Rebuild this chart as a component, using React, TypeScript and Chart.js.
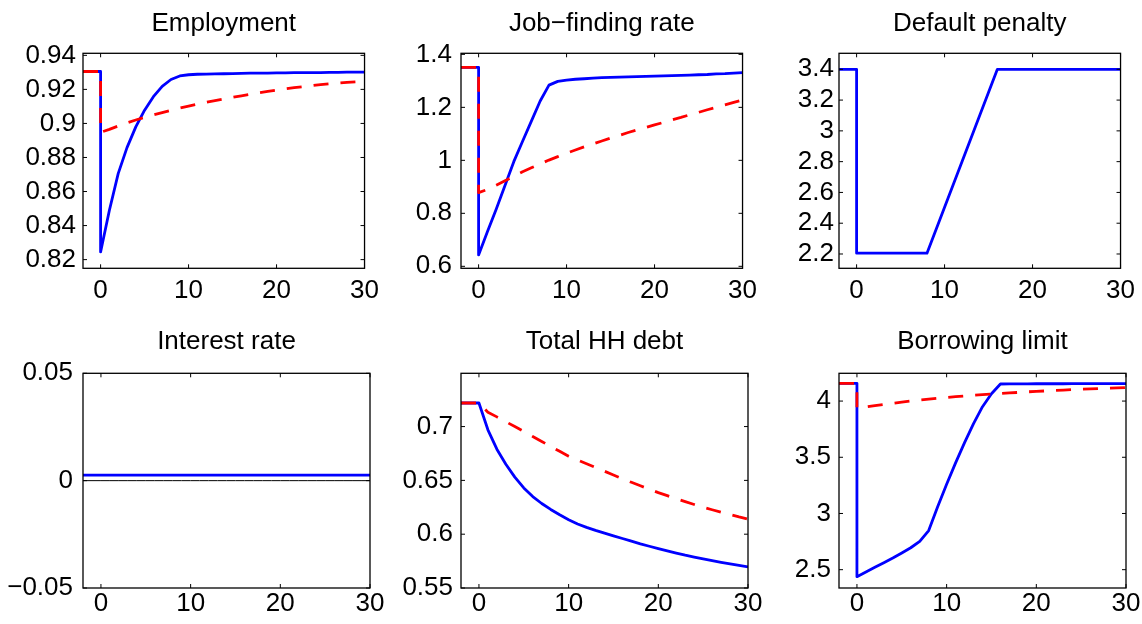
import React, { useEffect, useRef } from "react";
import { Chart, registerables } from "chart.js";

Chart.register(...registerables);

// ---------- DATA ----------
const periods = [-2, 0, 0, 1, 2, 3, 4, 5, 6, 7, 8, 9, 10, 11, 12, 13, 14, 15, 16, 17, 18, 19, 20, 21, 22, 23, 24, 25, 26, 27, 28, 29, 30];

const xTicks = [0, 10, 20, 30];
const xTickLabels = ["0", "10", "20", "30"];

const employmentBlue = [0.9305, 0.9305, 0.8245, 0.849, 0.8705, 0.8858, 0.898, 0.9078, 0.9157, 0.9218, 0.9258, 0.9279, 0.9286, 0.9289, 0.929, 0.9291, 0.9292, 0.9293, 0.9294, 0.9295, 0.9295, 0.9296, 0.9297, 0.9297, 0.9298, 0.9298, 0.9299, 0.9299, 0.93, 0.93, 0.9301, 0.9301, 0.9302];
const employmentRed = [0.9305, 0.9305, 0.8948, 0.8965, 0.8985, 0.9003, 0.902, 0.9036, 0.905, 0.9064, 0.9077, 0.909, 0.9102, 0.9113, 0.9124, 0.9134, 0.9144, 0.9153, 0.9162, 0.9171, 0.918, 0.9188, 0.9196, 0.9203, 0.921, 0.9216, 0.9222, 0.9228, 0.9233, 0.9237, 0.9241, 0.9244, 0.9247];
const employmentTicks = [0.82, 0.84, 0.86, 0.88, 0.9, 0.92, 0.94];
const employmentTickLabels = ["0.82", "0.84", "0.86", "0.88", "0.9", "0.92", "0.94"];

const jobBlue = [1.351, 1.351, 0.643, 0.73, 0.815, 0.905, 0.995, 1.072, 1.148, 1.224, 1.284, 1.298, 1.303, 1.306, 1.308, 1.31, 1.312, 1.313, 1.314, 1.315, 1.316, 1.317, 1.318, 1.319, 1.32, 1.321, 1.322, 1.323, 1.324, 1.326, 1.327, 1.329, 1.331];
const jobRed = [1.351, 1.351, 0.878, 0.89, 0.906, 0.923, 0.94, 0.957, 0.972, 0.987, 1.001, 1.014, 1.027, 1.039, 1.051, 1.062, 1.073, 1.084, 1.094, 1.105, 1.115, 1.124, 1.134, 1.143, 1.153, 1.162, 1.172, 1.181, 1.191, 1.2, 1.209, 1.219, 1.228];
const jobTicks = [0.6, 0.8, 1, 1.2, 1.4];
const jobTickLabels = ["0.6", "0.8", "1", "1.2", "1.4"];

const penaltyBlue = [3.4, 3.4, 2.205, 2.205, 2.205, 2.205, 2.205, 2.205, 2.205, 2.205, 2.205, 2.354, 2.504, 2.653, 2.803, 2.952, 3.101, 3.251, 3.4, 3.4, 3.4, 3.4, 3.4, 3.4, 3.4, 3.4, 3.4, 3.4, 3.4, 3.4, 3.4, 3.4, 3.4];
const penaltyTicks = [2.2, 2.4, 2.6, 2.8, 3, 3.2, 3.4];
const penaltyTickLabels = ["2.2", "2.4", "2.6", "2.8", "3", "3.2", "3.4"];

const interestBlue = [0.0026, 0.0026, 0.0026, 0.0026, 0.0026, 0.0026, 0.0026, 0.0026, 0.0026, 0.0026, 0.0026, 0.0026, 0.0026, 0.0026, 0.0026, 0.0026, 0.0026, 0.0026, 0.0026, 0.0026, 0.0026, 0.0026, 0.0026, 0.0026, 0.0026, 0.0026, 0.0026, 0.0026, 0.0026, 0.0026, 0.0026, 0.0026, 0.0026];
const interestZero = [0, 0, 0, 0, 0, 0, 0, 0, 0, 0, 0, 0, 0, 0, 0, 0, 0, 0, 0, 0, 0, 0, 0, 0, 0, 0, 0, 0, 0, 0, 0, 0, 0];
const interestTicks = [-0.05, 0, 0.05];
const interestTickLabels = ["\u22120.05", "0", "0.05"];

const debtBlue = [0.7219, 0.7219, 0.7219, 0.697, 0.679, 0.665, 0.653, 0.643, 0.635, 0.6285, 0.623, 0.618, 0.6135, 0.6095, 0.6063, 0.6035, 0.601, 0.5985, 0.596, 0.5935, 0.591, 0.5888, 0.5866, 0.5845, 0.5825, 0.5805, 0.5787, 0.577, 0.5754, 0.5739, 0.5724, 0.571, 0.5697];
const debtRed = [0.7219, 0.7219, 0.7219, 0.7134, 0.709, 0.7045, 0.7, 0.6955, 0.6908, 0.6862, 0.6816, 0.677, 0.6725, 0.669, 0.6655, 0.662, 0.6585, 0.655, 0.6515, 0.6482, 0.645, 0.6418, 0.6386, 0.6358, 0.633, 0.6303, 0.6276, 0.625, 0.6227, 0.6204, 0.6182, 0.616, 0.614];
const debtTicks = [0.55, 0.6, 0.65, 0.7];
const debtTickLabels = ["0.55", "0.6", "0.65", "0.7"];

const borrowBlue = [4.158, 4.158, 2.4375, 2.479, 2.521, 2.5625, 2.604, 2.649, 2.695, 2.752, 2.848, 3.06, 3.26, 3.45, 3.63, 3.8, 3.95, 4.065, 4.152, 4.153, 4.153, 4.153, 4.154, 4.154, 4.154, 4.154, 4.155, 4.155, 4.155, 4.155, 4.156, 4.156, 4.156];
const borrowRed = [4.158, 4.158, 3.935, 3.948, 3.96, 3.97, 3.98, 3.99, 4.0, 4.009, 4.017, 4.025, 4.032, 4.039, 4.045, 4.051, 4.057, 4.062, 4.067, 4.072, 4.077, 4.082, 4.086, 4.09, 4.094, 4.098, 4.102, 4.105, 4.108, 4.111, 4.114, 4.117, 4.12];
const borrowTicks = [2.5, 3, 3.5, 4];
const borrowTickLabels = ["2.5", "3", "3.5", "4"];

// ---------- STYLE / LAYOUT ----------
const FONT = "'Liberation Sans', Arial, Helvetica, sans-serif";
const BLUE = "#0000ff";
const RED = "#ff0000";

type Series = { values: number[]; color: string; dashed?: boolean; width?: number };
type PanelSpec = {
  title: string;
  col: number;
  row: number;
  yMin: number;
  yMax: number;
  yTicks: number[];
  yLabels: string[];
  yPad: number;
  series: Series[];
};

const canvasLefts = [0, 378, 756];
const rowTops = [0, 312];
const CANVAS_W = 386;
const CANVAS_H = 312;
const Y_AXIS_W = 83;
const rowTitlePad = [
  { top: 8.7, bottom: 13.4 },
  { top: 14.7, bottom: 15.4 },
];
const rowXAxisH = [43.7, 36];
const rowXPad = [7, 0];

const panels: PanelSpec[] = [
  {
    title: "Employment", col: 0, row: 0, yMin: 0.8149, yMax: 0.9412,
    yTicks: employmentTicks, yLabels: employmentTickLabels, yPad: 7,
    series: [
      { values: employmentRed, color: RED, dashed: true },
      { values: employmentBlue, color: BLUE },
    ],
  },
  {
    title: "Job\u2212finding rate", col: 1, row: 0, yMin: 0.5925, yMax: 1.404,
    yTicks: jobTicks, yLabels: jobTickLabels, yPad: 9,
    series: [
      { values: jobRed, color: RED, dashed: true },
      { values: jobBlue, color: BLUE },
    ],
  },
  {
    title: "Default penalty", col: 2, row: 0, yMin: 2.107, yMax: 3.504,
    yTicks: penaltyTicks, yLabels: penaltyTickLabels, yPad: 5,
    series: [{ values: penaltyBlue, color: BLUE }],
  },
  {
    title: "Interest rate", col: 0, row: 1, yMin: -0.05, yMax: 0.05,
    yTicks: interestTicks, yLabels: interestTickLabels, yPad: 10,
    series: [
      { values: interestBlue, color: BLUE },
      { values: interestZero, color: "#000000", width: 1 },
    ],
  },
  {
    title: "Total HH debt", col: 1, row: 1, yMin: 0.55, yMax: 0.7495,
    yTicks: debtTicks, yLabels: debtTickLabels, yPad: 8,
    series: [
      { values: debtRed, color: RED, dashed: true },
      { values: debtBlue, color: BLUE },
    ],
  },
  {
    title: "Borrowing limit", col: 2, row: 1, yMin: 2.337, yMax: 4.247,
    yTicks: borrowTicks, yLabels: borrowTickLabels, yPad: 8,
    series: [
      { values: borrowRed, color: RED, dashed: true },
      { values: borrowBlue, color: BLUE },
    ],
  },
];

const boxPlugin = {
  id: "matlabBox",
  afterDraw(chart: any) {
    const { ctx, chartArea: a, scales } = chart;
    const x = scales.x;
    const y = scales.y;
    const tl = 4;
    ctx.save();
    ctx.strokeStyle = "#000";
    ctx.lineWidth = 1.3;
    ctx.strokeRect(a.left, a.top, a.right - a.left, a.bottom - a.top);
    ctx.lineWidth = 1;
    ctx.beginPath();
    x.ticks.forEach((t: any) => {
      const px = x.getPixelForValue(t.value);
      ctx.moveTo(px, a.bottom);
      ctx.lineTo(px, a.bottom - tl);
      ctx.moveTo(px, a.top);
      ctx.lineTo(px, a.top + tl);
    });
    y.ticks.forEach((t: any) => {
      const py = y.getPixelForValue(t.value);
      ctx.moveTo(a.left, py);
      ctx.lineTo(a.left + tl, py);
      ctx.moveTo(a.right, py);
      ctx.lineTo(a.right - tl, py);
    });
    ctx.stroke();
    ctx.restore();
  },
};

function Panel({ spec }: { spec: PanelSpec }) {
  const ref = useRef<HTMLCanvasElement | null>(null);
  useEffect(() => {
    if (!ref.current) return;
    const row = spec.row;
    const chart = new Chart(ref.current, {
      type: "line",
      data: {
        datasets: spec.series.map((s) => ({
          data: periods.map((p, i) => ({ x: p, y: s.values[i] })),
          borderColor: s.color,
          borderWidth: s.width ?? 2.8,
          borderDash: s.dashed ? [15, 12] : [],
          borderCapStyle: "butt",
          borderJoinStyle: "round",
          pointRadius: 0,
          tension: 0,
          fill: false,
        })),
      },
      options: {
        animation: false,
        responsive: false,
        events: [],
        layout: { padding: { left: 0, right: 16, top: 0, bottom: 0 } },
        plugins: {
          legend: { display: false },
          tooltip: { enabled: false },
          title: {
            display: true,
            text: spec.title,
            fullSize: false,
            color: "#000",
            font: { family: FONT, size: 26, weight: "normal", lineHeight: 1.2 },
            padding: rowTitlePad[row],
          },
        },
        scales: {
          x: {
            type: "linear",
            min: -2,
            max: 30,
            grid: { display: false, drawTicks: false },
            border: { display: false },
            afterBuildTicks: (scale: any) => {
              scale.ticks = xTicks.map((v) => ({ value: v }));
            },
            afterFit: (scale: any) => {
              scale.height = rowXAxisH[row];
            },
            ticks: {
              autoSkip: false,
              maxRotation: 0,
              color: "#000",
              padding: rowXPad[row],
              font: { family: FONT, size: 26 },
              callback: (_v: any, i: number) => xTickLabels[i],
            },
          },
          y: {
            type: "linear",
            min: spec.yMin,
            max: spec.yMax,
            grid: { display: false, drawTicks: false },
            border: { display: false },
            afterBuildTicks: (scale: any) => {
              scale.ticks = spec.yTicks.map((v) => ({ value: v }));
            },
            afterFit: (scale: any) => {
              scale.width = Y_AXIS_W;
            },
            ticks: {
              autoSkip: false,
              color: "#000",
              padding: spec.yPad,
              font: { family: FONT, size: 26 },
              callback: (_v: any, i: number) => spec.yLabels[i],
            },
          },
        },
      },
      plugins: [boxPlugin],
    } as any);
    return () => chart.destroy();
  }, [spec]);
  return (
    <canvas
      ref={ref}
      width={CANVAS_W}
      height={CANVAS_H}
      style={{
        position: "absolute",
        left: canvasLefts[spec.col],
        top: rowTops[spec.row],
        width: CANVAS_W,
        height: CANVAS_H,
      }}
    />
  );
}

export default function App() {
  return (
    <div style={{ position: "absolute", left: 0, top: 0, width: 1142, height: 624, background: "#fff" }}>
      {panels.map((p) => (
        <Panel key={p.title} spec={p} />
      ))}
    </div>
  );
}
